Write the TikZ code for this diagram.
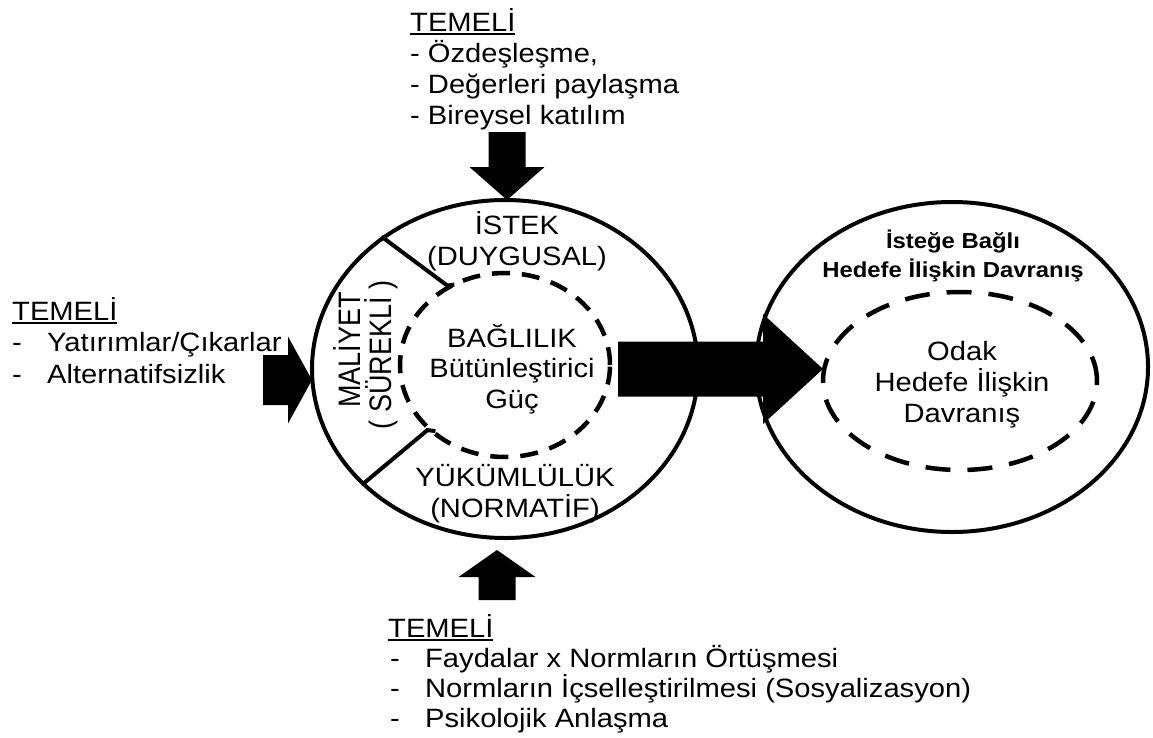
\documentclass[tikz,border=0pt]{standalone}
\usepackage{fontspec}
\setmainfont{Liberation Sans}[FakeStretch=1.1]
\newfontfamily\plainfont{Liberation Sans}
\usetikzlibrary{shapes.geometric}

% underline with a visible, fixed thickness
\newsavebox{\ulinebox}
\newcommand{\headline}[1]{\sbox{\ulinebox}{#1}\rlap{\rule[-3.5pt]{\wd\ulinebox}{1.6pt}}\usebox{\ulinebox}}

\tikzset{
  ring/.style={draw, ellipse, line width=4pt, inner sep=0pt},
  dashring/.style={draw, ellipse, line width=4.5pt, inner sep=0pt},
  txt/.style={inner sep=0pt, font=\fontsize{26.5}{30.5}\selectfont},
  boldtxt/.style={inner sep=0pt, font=\bfseries\fontsize{21.7}{29}\selectfont},
  sidetxt/.style={inner sep=0pt, rotate=90, yscale=1.15, font=\plainfont\fontsize{27}{30}\selectfont},
  divider/.style={line width=4pt, line join=miter},
  % block arrow along +x: length, shaft width, head width, head length
  pics/blockarrow/.style n args={4}{code={
    \fill (0,{-#2/2}) -- ({#1-#4},{-#2/2}) -- ({#1-#4},{-#3/2}) -- (#1,0)
          -- ({#1-#4},{#3/2}) -- ({#1-#4},{#2/2}) -- (0,{#2/2}) -- cycle;}}
}

\begin{document}
\begin{tikzpicture}[x=1pt,y=-1pt]
\useasboundingbox (0,0) rectangle (1153,737);

% commitment circle
\node[ring, minimum width=386pt, minimum height=338pt] (lc) at (505,369) {};
\node[dashring, dash pattern=on 18pt off 12pt, minimum width=210pt, minimum height=184pt] (ld) at (505,365) {};

% behaviour circle
\node[ring, minimum width=392pt, minimum height=330pt] (rc) at (952,367) {};
\node[dashring, dash pattern=on 25pt off 17pt, minimum width=274pt, minimum height=178pt] (rd) at (960,381) {};

% sector dividers
\draw[divider] (lc.133) -- (ld.126) -- ++(7,-1);
\draw[divider] (lc.219) -- (ld.220) -- ++(8,1);

% texts inside the commitment circle (anchored at the last line's baseline)
\node[txt, anchor=base, align=center] (istek) at (517,265) {İSTEK\\(DUYGUSAL)};
\node[txt, anchor=base, align=center] (bag) at (512,408) {BAĞLILIK\\Bütünleştirici\\Güç};
\node[txt, anchor=base, align=center] (yuk) at (515,517) {YÜKÜMLÜLÜK\\(NORMATİF)};
\node[sidetxt] (maliyet) at (347,350) {MALİYET};
\node[sidetxt] (surekli) at (381,355) {( SÜREKLİ )};

% texts inside the behaviour circle
\node[boldtxt, anchor=base, align=center] (istege) at (953,277) {İsteğe Bağlı\\Hedefe İlişkin Davranış};
\node[txt, anchor=base, align=center, font=\fontsize{26.5}{31}\selectfont] (odak) at (962,422) {Odak\\Hedefe İlişkin\\Davranış};

% antecedents
\node[txt, anchor=base west, align=left, font=\fontsize{26.5}{31}\selectfont] (ttop) at (410,124)
  {\headline{TEMELİ}\\- Özdeşleşme,\\- Değerleri paylaşma\\- Bireysel katılım};
\node[txt, anchor=base west, align=left, font=\fontsize{26.5}{31.5}\selectfont] (tleft) at (12,383)
  {\headline{TEMELİ}\\\makebox[35pt][l]{-}Yatırımlar/Çıkarlar\\\makebox[35pt][l]{-}Alternatifsizlik};
\node[txt, anchor=base west, align=left, font=\fontsize{26.5}{30}\selectfont] (tbot) at (388,727)
  {\headline{TEMELİ}\\\makebox[37pt][l]{\hspace{2pt}-}Faydalar x Normların Örtüşmesi\\\makebox[37pt][l]{\hspace{2pt}-}Normların İçselleştirilmesi (Sosyalizasyon)\\\makebox[37pt][l]{\hspace{2pt}-}Psikolojik Anlaşma};

% block arrows
\coordinate (atop) at (507,132);
\coordinate (aleft) at (263,380);
\coordinate (abot) at (497,600);
\coordinate (amid) at (618,369);
\pic[rotate=-90] at (atop) {blockarrow={68}{37}{75}{33}};
\pic at (aleft) {blockarrow={49}{50}{87}{24}};
\pic[rotate=90] at (abot) {blockarrow={50}{37}{77}{27}};
\pic at (amid) {blockarrow={205}{55}{110}{60}};
\end{tikzpicture}
\end{document}
